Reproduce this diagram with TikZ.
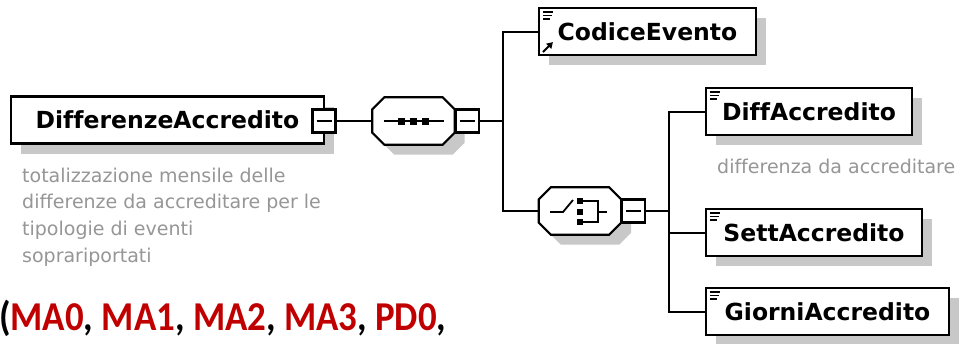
\documentclass[tikz,border=0pt]{standalone}
\usepackage{fontspec}
\usetikzlibrary{arrows.meta,positioning,calc,shadows}
\newfontfamily\xsdfont[Ligatures=NoCommon]{DejaVu Sans}
\newfontfamily\notefont{Carlito}
\definecolor{descgray}{RGB}{150,150,150}
\definecolor{codered}{RGB}{192,0,0}
\definecolor{shadowgray}{RGB}{200,200,200}
\tikzset{boxshadow/.style={drop shadow={shadow xshift=10pt,shadow yshift=-10pt,fill=shadowgray,opacity=1}},
  elem/.style={draw,line width=2.2pt,fill=white,boxshadow,minimum height=47pt,inner sep=0pt,text height=17pt,text depth=0pt,font=\xsdfont\bfseries\fontsize{23.5}{28}\selectfont},
  leaf/.style={elem,path picture={\draw[line width=1.5pt] ([shift={(4pt,-4pt)}]path picture bounding box.north west) -- ++(10pt,0pt)
      ([shift={(4pt,-7.5pt)}]path picture bounding box.north west) -- ++(9pt,0pt)
      ([shift={(4pt,-11pt)}]path picture bounding box.north west) -- ++(7pt,0pt);}},
  octabox/.style={minimum width=82pt,minimum height=47pt,inner sep=0pt},
  octa/.style={draw,line width=2.2pt,fill=white,boxshadow},
  minusbox/.style={draw,line width=2.2pt,fill=white,minimum size=23pt,inner sep=0pt,
    path picture={\draw[line width=1.6pt] ([xshift=4pt]path picture bounding box.west) -- ([xshift=-4pt]path picture bounding box.east);}},
  conn/.style={line width=2pt},
  desc/.style={inner sep=0pt,align=left,text=descgray,font=\xsdfont\fontsize{19}{26.7}\selectfont}}
\begin{document}
\begin{tikzpicture}[x=1pt,y=-1pt,icon/.style={line width=1.8pt}]
\path[fill=white,use as bounding box] (0,0) rectangle (960,343);
\node[elem,minimum width=313pt] (diffacc) at (167.5,120) {DifferenzeAccredito};
\node[minusbox] (mainmin) at (324,121) {};
\node[octabox] (seq) at (413.5,121) {};
\node[octabox] (choice) at (580,211) {};
\foreach \o in {seq,choice}{
  \draw[octa] ([xshift=12pt]\o.north west) -- ([xshift=-12pt]\o.north east) -- ([yshift=-12pt]\o.north east) -- ([yshift=12pt]\o.south east)
    -- ([xshift=-12pt]\o.south east) -- ([xshift=12pt]\o.south west) -- ([yshift=12pt]\o.south west) -- ([yshift=-12pt]\o.north west) -- cycle;}
\node[minusbox,right=0pt of seq] (seqmin) {};
\node[minusbox,right=0pt of choice] (choicemin) {};
\node[leaf,minimum width=217pt] (codice) at (647.5,31.5) {CodiceEvento};
\node[leaf,minimum width=206pt] (diff) at (809,111.5) {DiffAccredito};
\node[leaf,minimum width=216pt] (sett) at (814,232.5) {SettAccredito};
\node[leaf,minimum width=243pt] (giorni) at (827.5,311.5) {GiorniAccredito};
\node[desc,anchor=north west] (diffaccnote) at (22,167.5) {totalizzazione mensile delle\\differenze da accreditare per le\\tipologie di eventi\\soprariportati};
\node[desc,anchor=base west] (diffnote) at (717,173) {differenza da accreditare};
\node[anchor=base west,inner sep=0pt,font=\notefont\bfseries\fontsize{41}{48}\selectfont,xscale=.9,transform shape] (codes) at (-1,330)
  {(\textcolor{codered}{MA0}, \textcolor{codered}{MA1}, \textcolor{codered}{MA2}, \textcolor{codered}{MA3}, \textcolor{codered}{PD0},};
\coordinate (seqfork) at (503,121);
\coordinate (choicefork) at (669,211);
\draw[conn] (mainmin.east) -- (seq.west);
\draw[conn] (seqmin.east) -- (seqfork);
\draw[conn] (codice.west) -| (seqfork) |- (choice.west);
\draw[conn] (choicemin.east) -- (choicefork);
\draw[conn] (diff.west) -| (choicefork) |- (giorni.west);
\draw[conn] (choicefork |- sett.west) -- (sett.west);
\draw[icon,-{Triangle[length=6pt,width=7pt]}] ([shift={(5pt,4pt)}]codice.south west) -- ++(10pt,10pt);
\begin{scope}[shift={(seq.center)}]
\draw[icon] (-30,0) -- (30,0);
\foreach \dx in {-12,0,12}{\fill (\dx-3.5,-3.5) rectangle (\dx+3.5,3.5);}
\end{scope}
\begin{scope}[shift={(choice.center)}]
\draw[icon] (-30,1) -- (-17,1) -- (-7,-11);
\foreach \dy in {-10,1,11}{\fill (-3,\dy-3) rectangle (3,\dy+3);}
\draw[icon] (3,-10) -- (18,-10) -- (18,11) -- (3,11) (18,1) -- (27,1);
\end{scope}
\end{tikzpicture}
\end{document}
